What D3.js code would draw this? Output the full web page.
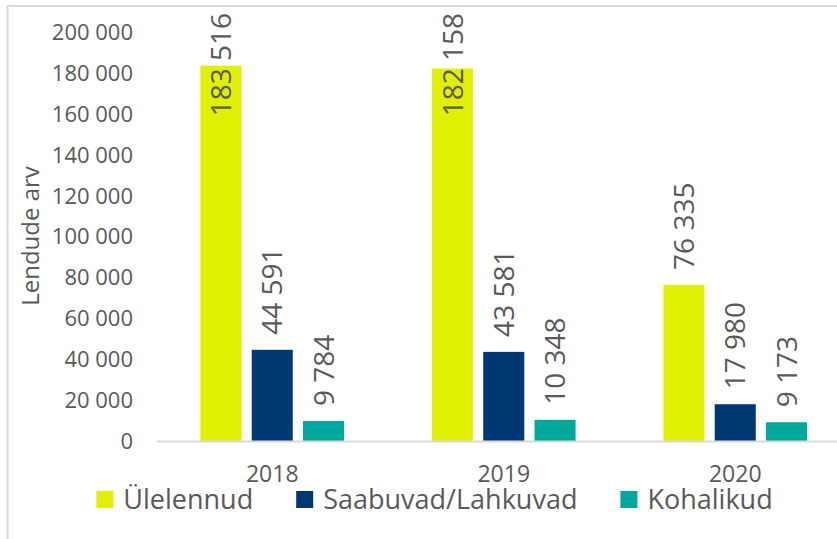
<!DOCTYPE html>
<html>
<head>
<meta charset="utf-8">
<script src="https://cdn.jsdelivr.net/npm/d3@7"></script>
<style>
  body { margin: 0; background: #fff; }
  text { font-family: "Open Sans", sans-serif; fill: #595959; }
</style>
</head>
<body>
<svg id="chart"></svg>
<script>
var years = ['2018', '2019', '2020']
var seriesNames = ['Ülelennud', 'Saabuvad/Lahkuvad', 'Kohalikud']
var ulelennud = [183516, 182158, 76335]
var saabuvad = [44591, 43581, 17980]
var kohalikud = [9784, 10348, 9173]
var yTicks = [0, 20000, 40000, 60000, 80000, 100000, 120000, 140000, 160000, 180000, 200000]

var colors = ['#e0f000', '#003873', '#00a99c']
var seriesValues = [ulelennud, saabuvad, kohalikud]

var W = 837, H = 539
var plot = {left: 156.5, right: 851, top: 32, bottom: 441}

var fmt = d3.formatLocale({decimal: ',', thousands: ' ', grouping: [3], currency: ['', '']}).format(',d')

var svg = d3.select('#chart').attr('width', W).attr('height', H)

// outer frame (cropped at right/bottom)
svg.append('rect')
  .attr('x', 7.5).attr('y', 6)
  .attr('width', 900).attr('height', 600)
  .attr('fill', 'none')
  .attr('stroke', '#d9d9d9')
  .attr('stroke-width', 2)

var data = years.map((y, i) => {
  var row = {year: y}
  seriesNames.forEach((s, j) => row[s] = seriesValues[j][i])
  return row
})

var x0 = d3.scaleBand()
  .domain(years)
  .range([plot.left, plot.right])
  .padding(0)

var x1 = d3.scaleBand()
  .domain(seriesNames)
  .range([0, x0.bandwidth()])
  .paddingInner(0.2)
  .paddingOuter(0.856)

var y = d3.scaleLinear()
  .domain([0, 200000])
  .range([plot.bottom, plot.top])

var color = d3.scaleOrdinal().domain(seriesNames).range(colors)

// y tick labels (no axis line)
svg.append('g')
  .selectAll('text')
  .data(yTicks)
  .enter()
  .append('text')
    .attr('x', 133)
    .attr('y', d => y(d))
    .attr('dy', '0.36em')
    .attr('text-anchor', 'end')
    .style('font-size', '22px')
    .text(d => fmt(d))

// y axis title
svg.append('text')
  .attr('transform', 'translate(39,236) rotate(-90)')
  .attr('text-anchor', 'middle')
  .style('font-size', '24px')
  .text('Lendude arv')

// bars
var groups = svg.append('g')
  .selectAll('g')
  .data(data)
  .enter()
  .append('g')
    .attr('transform', d => 'translate(' + x0(d.year) + ',0)')

groups.selectAll('rect')
  .data(d => seriesNames.map(s => ({key: s, value: d[s]})))
  .enter()
  .append('rect')
    .attr('x', d => x1(d.key))
    .attr('y', d => y(d.value))
    .attr('width', x1.bandwidth())
    .attr('height', d => y(0) - y(d.value))
    .attr('fill', d => color(d.key))

// data labels, rotated, pushed down when they would leave the chart
groups.selectAll('text')
  .data(d => seriesNames.map(s => ({key: s, value: d[s]})))
  .enter()
  .append('text')
    .attr('text-anchor', 'start')
    .attr('dy', '0.36em')
    .style('font-size', '28px')
    .text(d => fmt(d.value))
    .each(function(d) {
      var len = this.getComputedTextLength()
      var start = Math.max(y(d.value) - 15, 13 + len)
      d3.select(this).attr('transform',
        'translate(' + (x1(d.key) + x1.bandwidth() / 2) + ',' + start + ') rotate(-90)')
    })

// x axis baseline
svg.append('line')
  .attr('x1', plot.left).attr('x2', W)
  .attr('y1', y(0) + 0.5).attr('y2', y(0) + 0.5)
  .attr('stroke', '#d9d9d9')
  .attr('stroke-width', 2)

// year labels
svg.append('g')
  .selectAll('text')
  .data(years)
  .enter()
  .append('text')
    .attr('x', d => x0(d) + x0.bandwidth() / 2)
    .attr('y', 474)
    .attr('dy', '0.36em')
    .attr('text-anchor', 'middle')
    .style('font-size', '23px')
    .text(d => d)

// legend
var legend = svg.append('g')
var items = legend.selectAll('g')
  .data(seriesNames)
  .enter()
  .append('g')

items.append('rect')
  .attr('width', 17).attr('height', 17)
  .attr('y', 491)
  .attr('fill', d => color(d))

items.append('text')
  .attr('x', 27)
  .attr('y', 509)
  .style('font-size', '27px')
  .text(d => d)

var pos = 0
items.each(function() {
  var w = d3.select(this).select('text').node().getComputedTextLength()
  d3.select(this).attr('transform', 'translate(' + pos + ',0)')
  pos += 27 + w + 43
})
var total = pos - 43
legend.attr('transform', 'translate(' + (434.5 - total / 2) + ',0)')
</script>
</body>
</html>
